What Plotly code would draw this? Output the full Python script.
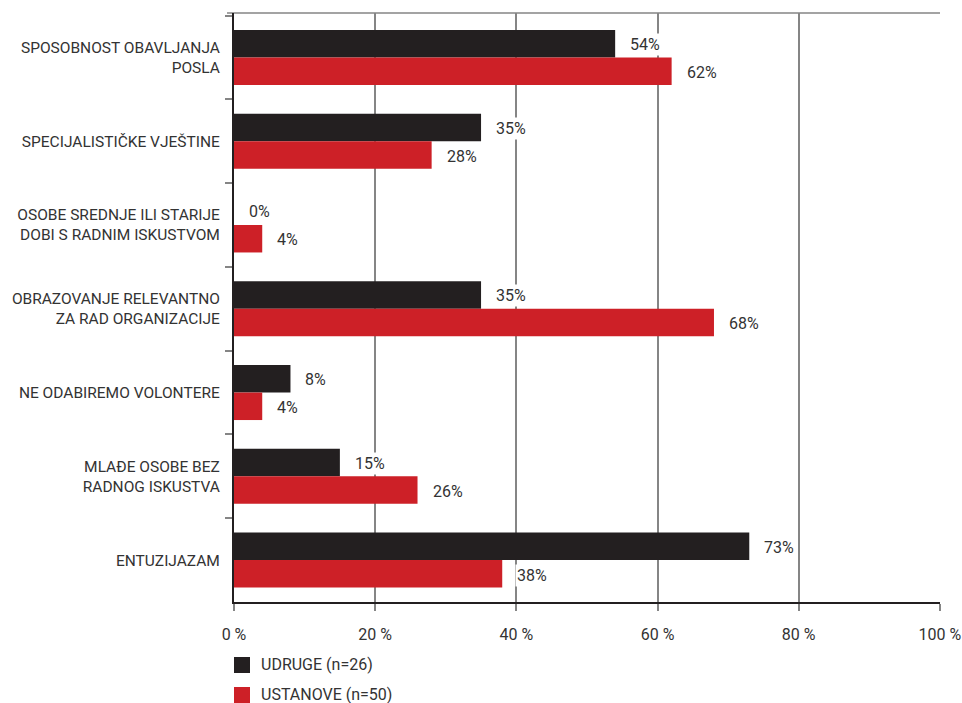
import plotly.graph_objects as go

# Survey categories (top to bottom) and the share of respondents per group, in %
categories = [
    "SPOSOBNOST OBAVLJANJA<br>POSLA",
    "SPECIJALISTIČKE VJEŠTINE",
    "OSOBE SREDNJE ILI STARIJE<br>DOBI S RADNIM ISKUSTVOM",
    "OBRAZOVANJE RELEVANTNO<br>ZA RAD ORGANIZACIJE",
    "NE ODABIREMO VOLONTERE",
    "MLAĐE OSOBE BEZ<br>RADNOG ISKUSTVA",
    "ENTUZIJAZAM",
]
udruge = [54, 35, 0, 35, 8, 15, 73]
ustanove = [62, 28, 4, 68, 4, 26, 38]
series_names = ["UDRUGE (n=26)", "USTANOVE (n=50)"]
x_ticks = [0, 20, 40, 60, 80, 100]
x_tick_labels = [f"{v} %" for v in x_ticks]

BLACK = "#231f20"
RED = "#cd2027"
GRID = "#858585"
TEXT = "#333333"
FONT = "Roboto"

W, H = 962, 703
ML, MR, MT, MB = 234, 22, 13, 101
PW, PH = W - ML - MR, H - MT - MB


def px_x(px):
    return (px - ML) / PW


def px_y(py):
    return (H - MB - py) / PH


fig = go.Figure()
for name, vals, color in [(series_names[0], udruge, BLACK), (series_names[1], ustanove, RED)]:
    fig.add_trace(go.Bar(
        y=categories, x=vals, name=name, orientation="h",
        marker=dict(color=color, line=dict(width=0)),
        showlegend=False, hoverinfo="x+name",
    ))

# value labels beside each bar, on a white box
annotations = []
for vals, shift in [(udruge, 13), (ustanove, -15)]:
    for i, v in enumerate(vals):
        annotations.append(dict(
            x=v, y=i, xref="x", yref="y", text=f"{v}%", showarrow=False,
            xanchor="left", yanchor="middle", xshift=13, yshift=shift,
            bgcolor="white", borderpad=1,
            font=dict(family=FONT, size=16, color=TEXT),
        ))

# legend entries below the axis
shapes = []
for k, (name, color) in enumerate([(series_names[0], BLACK), (series_names[1], RED)]):
    top = 657 + k * 30
    shapes.append(dict(type="rect", xref="paper", yref="paper",
                       x0=px_x(234), x1=px_x(250), y0=px_y(top), y1=px_y(top + 16),
                       fillcolor=color, line=dict(width=0)))
    annotations.append(dict(x=px_x(259), y=px_y(top + 7.5), xref="paper", yref="paper",
                            text=name, showarrow=False, xanchor="left", yanchor="middle",
                            font=dict(family=FONT, size=16, color=TEXT)))

# thin frame line along the top of the plot
shapes.append(dict(type="line", xref="paper", yref="paper", x0=px_x(227), x1=1, y0=1, y1=1,
                   line=dict(color=GRID, width=1.5), layer="below"))

fig.update_layout(
    template="none",
    width=W, height=H,
    margin=dict(l=ML, r=MR, t=MT, b=MB, pad=0, autoexpand=False),
    paper_bgcolor="white", plot_bgcolor="white",
    barmode="group", bargap=0.3435, bargroupgap=0,
    font=dict(family=FONT, size=15, color=TEXT),
    annotations=annotations, shapes=shapes,
    xaxis=dict(
        automargin=False,
        range=[0, 100.02], tickmode="array", tickvals=x_ticks, ticktext=x_tick_labels,
        showgrid=True, gridcolor=GRID, gridwidth=1.5, zeroline=False,
        showline=True, linecolor=BLACK, linewidth=2,
        ticks="outside", ticklen=7, tickwidth=1.5, tickcolor=GRID,
        ticklabelstandoff=10,
        tickfont=dict(family=FONT, size=16, color=TEXT),
    ),
    yaxis=dict(
        automargin=False,
        type="category", categoryorder="array", categoryarray=categories,
        range=[6.5, -0.53], tickson="boundaries",
        showgrid=False, zeroline=False,
        showline=True, linecolor=BLACK, linewidth=2,
        ticks="outside", ticklen=7, tickwidth=1.5, tickcolor=GRID,
        ticklabelstandoff=9,
        tickfont=dict(family=FONT, size=15.5, color=TEXT),
    ),
)

fig.write_html("out.html")
